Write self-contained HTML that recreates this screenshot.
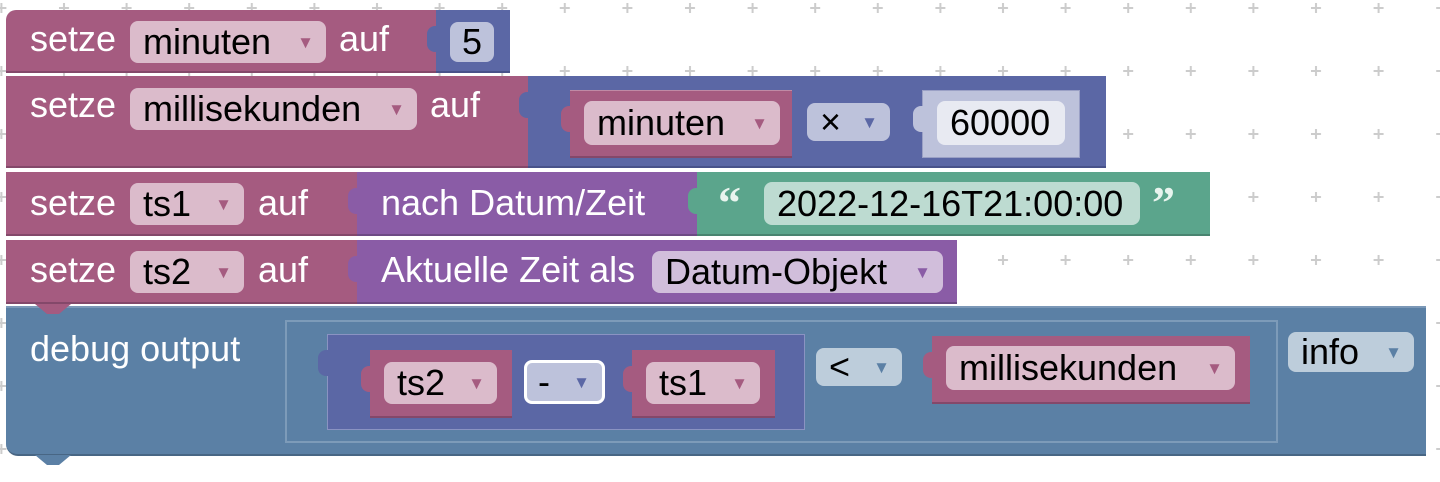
<!DOCTYPE html>
<html><head><meta charset="utf-8"><style>
body{margin:0;width:1440px;height:482px;overflow:hidden;background:#fff;position:relative;font-family:"Liberation Sans",Arial,sans-serif;}
.b{position:absolute;box-sizing:border-box;}
.t{position:absolute;color:#fff;font-size:36px;line-height:1;white-space:nowrap;}
.p{position:absolute;box-sizing:border-box;border-radius:8px;font-size:36px;color:#000;line-height:1;display:flex;align-items:center;padding-left:13px;white-space:nowrap;}
.p i{font-style:normal;font-size:17px;margin-left:auto;margin-right:12px;}
.red{background:#a55b80;border-bottom:2px solid #84486a;}
.mb{background:#5b67a5;border-bottom:2px solid #48528a;}
.pu{background:#8a5ca6;border-bottom:2px solid #6e4a85;}
.gr{background:#5ba58c;border-bottom:2px solid #498470;}
.bl{background:#5b80a5;border-bottom:2px solid #486684;}
.pr{background:#dbbbcb;} .pr i{color:#a55b80}
.pm{background:#bdc2db;} .pm i{color:#5b67a5}
.pp{background:#d1bedb;} .pp i{color:#8a5ca6}
.pb{background:#bdcddb;} .pb i{color:#5b80a5}
.tab{position:absolute;width:10px;height:26px;border-radius:8px 0 0 8px;}
</style></head><body>
<svg class="b" style="left:0;top:0" width="1440" height="482">
<defs><pattern id="g" x="57" y="1" width="62.6" height="63" patternUnits="userSpaceOnUse">
<path d="M7 2v10M2 7h10" stroke="#ccc" stroke-width="2"/></pattern></defs>
<rect width="1440" height="482" fill="url(#g)"/>
</svg>

<!-- row1 -->
<div class="b red" style="left:6px;top:10px;width:432px;height:63px;border-radius:10px 0 0 0"></div>
<div class="b mb" style="left:436px;top:10px;width:74px;height:63px"></div>
<div class="tab" style="left:427px;top:26px;background:#5b67a5"></div>
<div class="t" style="left:30px;top:21px">setze</div>
<div class="p pr" style="left:130px;top:21px;width:196px;height:42px">minuten<i>▼</i></div>
<div class="t" style="left:339px;top:21px">auf</div>
<div class="p pm" style="left:450px;top:22px;width:44px;height:40px;padding-left:12px">5</div>

<!-- row2 -->
<div class="b red" style="left:6px;top:76px;width:524px;height:92px"></div>
<div class="b mb" style="left:528px;top:76px;width:578px;height:92px"></div>
<div class="tab" style="left:519px;top:92px;background:#5b67a5"></div>
<div class="t" style="left:30px;top:87px">setze</div>
<div class="p pr" style="left:130px;top:88px;width:287px;height:42px">millisekunden<i>▼</i></div>
<div class="t" style="left:430px;top:87px">auf</div>
<div class="b red" style="left:570px;top:90px;width:222px;height:68px;border-top:1px solid #c08aa5"></div>
<div class="tab" style="left:561px;top:106px;background:#a55b80"></div>
<div class="p pr" style="left:584px;top:101px;width:196px;height:44px">minuten<i>▼</i></div>
<div class="p pm" style="left:807px;top:103px;width:83px;height:38px">×<i>▼</i></div>
<div class="b" style="left:922px;top:90px;width:158px;height:68px;background:#bdc2db;border:1px solid #9aa0c5"></div>
<div class="tab" style="left:913px;top:106px;background:#bdc2db"></div>
<div class="p" style="left:937px;top:101px;width:128px;height:44px;background:#e8eaf2">60000</div>

<!-- row3 -->
<div class="b red" style="left:6px;top:172px;width:353px;height:64px"></div>
<div class="b pu" style="left:357px;top:172px;width:342px;height:64px"></div>
<div class="tab" style="left:348px;top:188px;background:#8a5ca6"></div>
<div class="b gr" style="left:697px;top:172px;width:513px;height:64px"></div>
<div class="tab" style="left:688px;top:188px;background:#5ba58c"></div>
<div class="t" style="left:30px;top:185px">setze</div>
<div class="p pr" style="left:130px;top:183px;width:114px;height:42px">ts1<i>▼</i></div>
<div class="t" style="left:258px;top:185px">auf</div>
<div class="t" style="left:381px;top:185px">nach Datum/Zeit</div>
<div class="t" style="left:718px;top:180px;font-weight:bold;font-family:'Liberation Serif',serif;font-size:46px;color:#e8f4ee">“</div>
<div class="p" style="left:764px;top:182px;width:376px;height:43px;background:#bddbd1;padding-left:13px">2022-12-16T21:00:00</div>
<div class="t" style="left:1152px;top:180px;font-weight:bold;font-family:'Liberation Serif',serif;font-size:46px;color:#e8f4ee">”</div>

<!-- row4 -->
<div class="b red" style="left:6px;top:240px;width:353px;height:64px"></div>
<div class="b pu" style="left:357px;top:240px;width:600px;height:64px"></div>
<div class="tab" style="left:348px;top:256px;background:#8a5ca6"></div>
<div class="t" style="left:30px;top:252px">setze</div>
<div class="p pr" style="left:130px;top:251px;width:114px;height:42px">ts2<i>▼</i></div>
<div class="t" style="left:258px;top:252px">auf</div>
<div class="t" style="left:381px;top:252px">Aktuelle Zeit als</div>
<div class="p pp" style="left:652px;top:251px;width:291px;height:42px">Datum-Objekt<i>▼</i></div>

<!-- debug -->
<div class="b bl" style="left:6px;top:306px;width:1420px;height:150px;border-radius:0 0 0 12px;border-top:2px solid #7b98b7"></div>
<svg class="b" style="left:35px;top:455px" width="40" height="12"><path d="M0 0 L12 10 L24 10 L36 0Z" fill="#5b80a5"/></svg>
<svg class="b" style="left:35px;top:304px" width="40" height="12"><path d="M0 0 L12 10 L24 10 L36 0Z" fill="#a55b80"/></svg>
<div class="t" style="left:30px;top:331px">debug output</div>
<div class="b" style="left:285px;top:320px;width:993px;height:123px;background:#5b80a5;border:2px solid #7d9bb9"></div>
<div class="b mb" style="left:327px;top:334px;width:478px;height:96px;border:1px solid #8a93c2"></div>
<div class="tab" style="left:318px;top:350px;background:#5b67a5"></div>
<div class="b red" style="left:370px;top:350px;width:142px;height:68px"></div>
<div class="tab" style="left:361px;top:366px;background:#a55b80"></div>
<div class="p pr" style="left:384px;top:362px;width:113px;height:42px">ts2<i>▼</i></div>
<div class="p pm" style="left:524px;top:360px;width:81px;height:44px;border:3px solid #fff;padding-left:11px">-<i>▼</i></div>
<div class="b red" style="left:632px;top:350px;width:143px;height:68px"></div>
<div class="tab" style="left:623px;top:366px;background:#a55b80"></div>
<div class="p pr" style="left:646px;top:362px;width:114px;height:42px">ts1<i>▼</i></div>
<div class="p pb" style="left:816px;top:348px;width:86px;height:38px">&lt;<i>▼</i></div>
<div class="b red" style="left:932px;top:336px;width:318px;height:68px"></div>
<div class="tab" style="left:923px;top:352px;background:#a55b80"></div>
<div class="p pr" style="left:946px;top:346px;width:289px;height:44px">millisekunden<i>▼</i></div>
<div class="p pb" style="left:1288px;top:332px;width:126px;height:40px">info<i>▼</i></div>
</body></html>
